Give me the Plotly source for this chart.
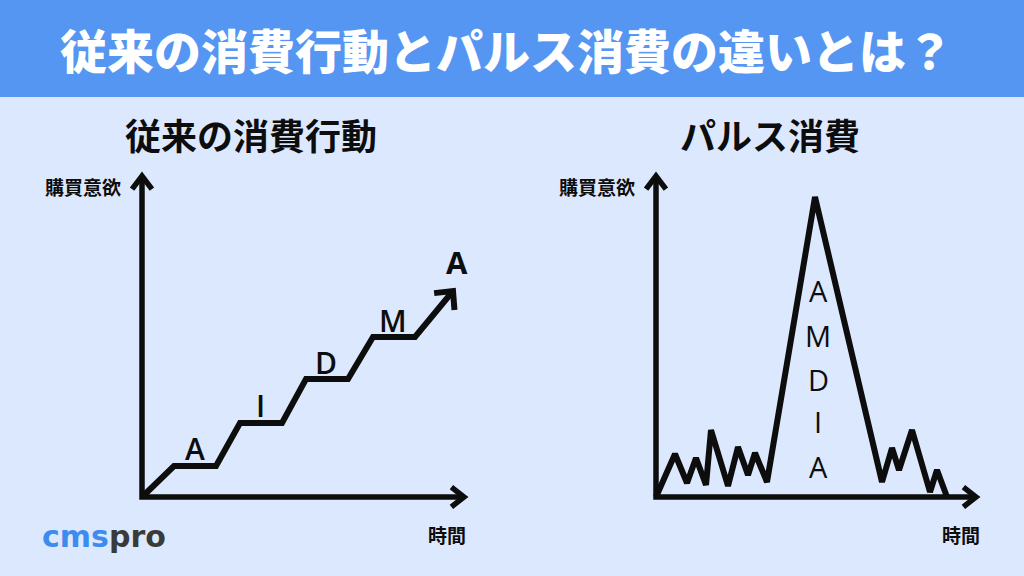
import math
import plotly.graph_objects as go

W, H = 1024, 576
BG = "#DCE8FD"
HEADER = "#5596F2"
INK = "#0d0d0d"
JP = "Noto Sans CJK JP"
LAT = "Open Sans"

# ---- data -------------------------------------------------------------
title = "従来の消費行動とパルス消費の違いとは？"
left_title = "従来の消費行動"
right_title = "パルス消費"
y_label = "購買意欲"
x_label = "時間"

# traditional behaviour: a staircase through the AIDMA stages
trad_time = [0, 3.2, 7.4, 9.8, 14.0, 16.4, 20.6, 23.1, 27.3, 31.1]
trad_desire = [0, 3.1, 3.1, 7.4, 7.4, 11.8, 11.8, 16.0, 16.0, 20.6]
trad_stages = ["A", "I", "D", "M", "A"]
trad_stage_time = [5.3, 11.8, 18.4, 25.1, 31.5]
trad_stage_desire = [4.9, 9.2, 13.5, 17.7, 23.5]

# pulse consumption: low noise, one sharp spike, noise again
pulse_time = [0, 1.9, 3.1, 4.0, 5.0, 5.5, 7.2, 8.2, 9.2, 9.9, 11.1,
              15.9, 22.6, 23.6, 24.3, 25.6, 27.4, 28.1, 29.1]
pulse_desire = [0, 4.3, 1.4, 3.9, 1.2, 6.7, 1.1, 5.0, 2.2, 4.4, 1.5,
                30.0, 1.5, 4.9, 2.7, 6.7, 0.5, 2.7, 0]
pulse_stages = ["A", "M", "D", "I", "A"]
pulse_stage_time = [16.2] * 5
pulse_stage_desire = [20.7, 16.2, 11.8, 7.6, 3.1]

# axis extents in pixels (10 px per data unit on both panels)
left_px = dict(x0=142, x1=467, y0=497, y1=174)
right_px = dict(x0=656, x1=979, y0=497, y1=174)
UNIT = 10.0
PAD = 3.0  # room around each panel so arrowheads are not clipped


def panel_axes(px):
    xr = [0, (px["x1"] - px["x0"]) / UNIT]
    yr = [0, (px["y0"] - px["y1"]) / UNIT]
    xd = [(px["x0"] - PAD * UNIT) / W, (px["x1"] + PAD * UNIT) / W]
    yd = [1 - (px["y0"] + PAD * UNIT) / H, 1 - (px["y1"] - PAD * UNIT) / H]
    return xr, yr, xd, yd


fig = go.Figure()

axis_style = dict(visible=False, showgrid=False, zeroline=False, fixedrange=True)
for i, px in enumerate([left_px, right_px], start=1):
    xr, yr, xd, yd = panel_axes(px)
    sfx = "" if i == 1 else str(i)
    fig.update_layout(**{
        f"xaxis{sfx}": dict(range=[xr[0] - PAD, xr[1] + PAD], domain=xd,
                            anchor=f"y{sfx}", **axis_style),
        f"yaxis{sfx}": dict(range=[yr[0] - PAD, yr[1] + PAD], domain=yd,
                            anchor=f"x{sfx}", **axis_style),
    })


def chevron(tip, back_dir, arm, spread_deg):
    """Open arrowhead: two arms from the tip, rotated about the backward direction."""
    bx, by = back_dir
    n = math.hypot(bx, by)
    bx, by = bx / n, by / n
    pts = []
    for s in (spread_deg, -spread_deg):
        a = math.radians(s)
        rx = bx * math.cos(a) - by * math.sin(a)
        ry = bx * math.sin(a) + by * math.cos(a)
        pts.append((tip[0] + rx * arm, tip[1] + ry * arm))
    return [pts[0][0], tip[0], pts[1][0]], [pts[0][1], tip[1], pts[1][1]]


def line_trace(xs, ys, xa, ya, width):
    return go.Scatter(x=xs, y=ys, mode="lines", line=dict(color=INK, width=width),
                      xaxis=xa, yaxis=ya, hoverinfo="skip", showlegend=False)


def add_frame(px, xa, ya):
    xr, yr, _, _ = panel_axes(px)
    xmax, ymax = xr[1] - 0.3, yr[1] - 0.2
    # L-shaped axes
    fig.add_trace(line_trace([0, 0, xmax], [ymax, 0, 0], xa, ya, 5.5))
    # arrowheads on both axes
    hx, hy = chevron((0, ymax), (0, -1), 1.65, 37)
    fig.add_trace(line_trace(hx, hy, xa, ya, 5.5))
    hx, hy = chevron((xmax, 0), (-1, 0), 1.6, 38)
    fig.add_trace(line_trace(hx, hy, xa, ya, 5.5))


add_frame(left_px, "x", "y")
add_frame(right_px, "x2", "y2")

# staircase with an arrow on its last segment
fig.add_trace(line_trace(trad_time, trad_desire, "x", "y", 6))
tip = (trad_time[-1], trad_desire[-1])
back = (trad_time[-2] - tip[0], trad_desire[-2] - tip[1])
hx, hy = chevron(tip, back, 1.9, 44)
fig.add_trace(line_trace(hx, hy, "x", "y", 6))

# pulse line
fig.add_trace(line_trace(pulse_time, pulse_desire, "x2", "y2", 6))

ann = []
# stage letters
for k, (t, d, s) in enumerate(zip(trad_stage_time, trad_stage_desire, trad_stages)):
    last = k == len(trad_stages) - 1
    ann.append(dict(x=t, y=d, xref="x", yref="y", text=s, showarrow=False,
                    font=dict(family=LAT, size=31 if last else 30, color=INK,
                              weight=700 if last else 600)))
for t, d, s in zip(pulse_stage_time, pulse_stage_desire, pulse_stages):
    ann.append(dict(x=t, y=d, xref="x2", yref="y2", text=s, showarrow=False,
                    font=dict(family=LAT, size=29, color=INK, weight=500)))


def paper(xp, yp, text, size, color=INK, family=JP, xanchor="center", weight=700):
    ann.append(dict(x=xp / W, y=1 - yp / H, xref="paper", yref="paper", text=text,
                    showarrow=False, xanchor=xanchor, yanchor="middle",
                    font=dict(family=family, size=size, color=color, weight=weight)))


paper(506, 48, title, 47, color="white", weight=900)
paper(251, 134, left_title, 36)
paper(770, 134, right_title, 36)
paper(83, 186, y_label, 19)
paper(597, 186, y_label, 19)
paper(447, 534, x_label, 19)
paper(961, 534, x_label, 19)
paper(40, 536, "<span style='color:#3E8BF0'>cms</span><span style='color:#3a3a3a'>pro</span>",
      30, family="DejaVu Sans", xanchor="left")

fig.update_layout(
    width=W, height=H,
    margin=dict(l=0, r=0, t=0, b=0),
    paper_bgcolor=BG, plot_bgcolor="rgba(0,0,0,0)",
    showlegend=False,
    annotations=ann,
    shapes=[dict(type="rect", xref="paper", yref="paper", x0=0, x1=1,
                 y0=1 - 97 / H, y1=1, fillcolor=HEADER, line=dict(width=0), layer="below")],
)

fig.write_html("out.html", config={"displayModeBar": False})
